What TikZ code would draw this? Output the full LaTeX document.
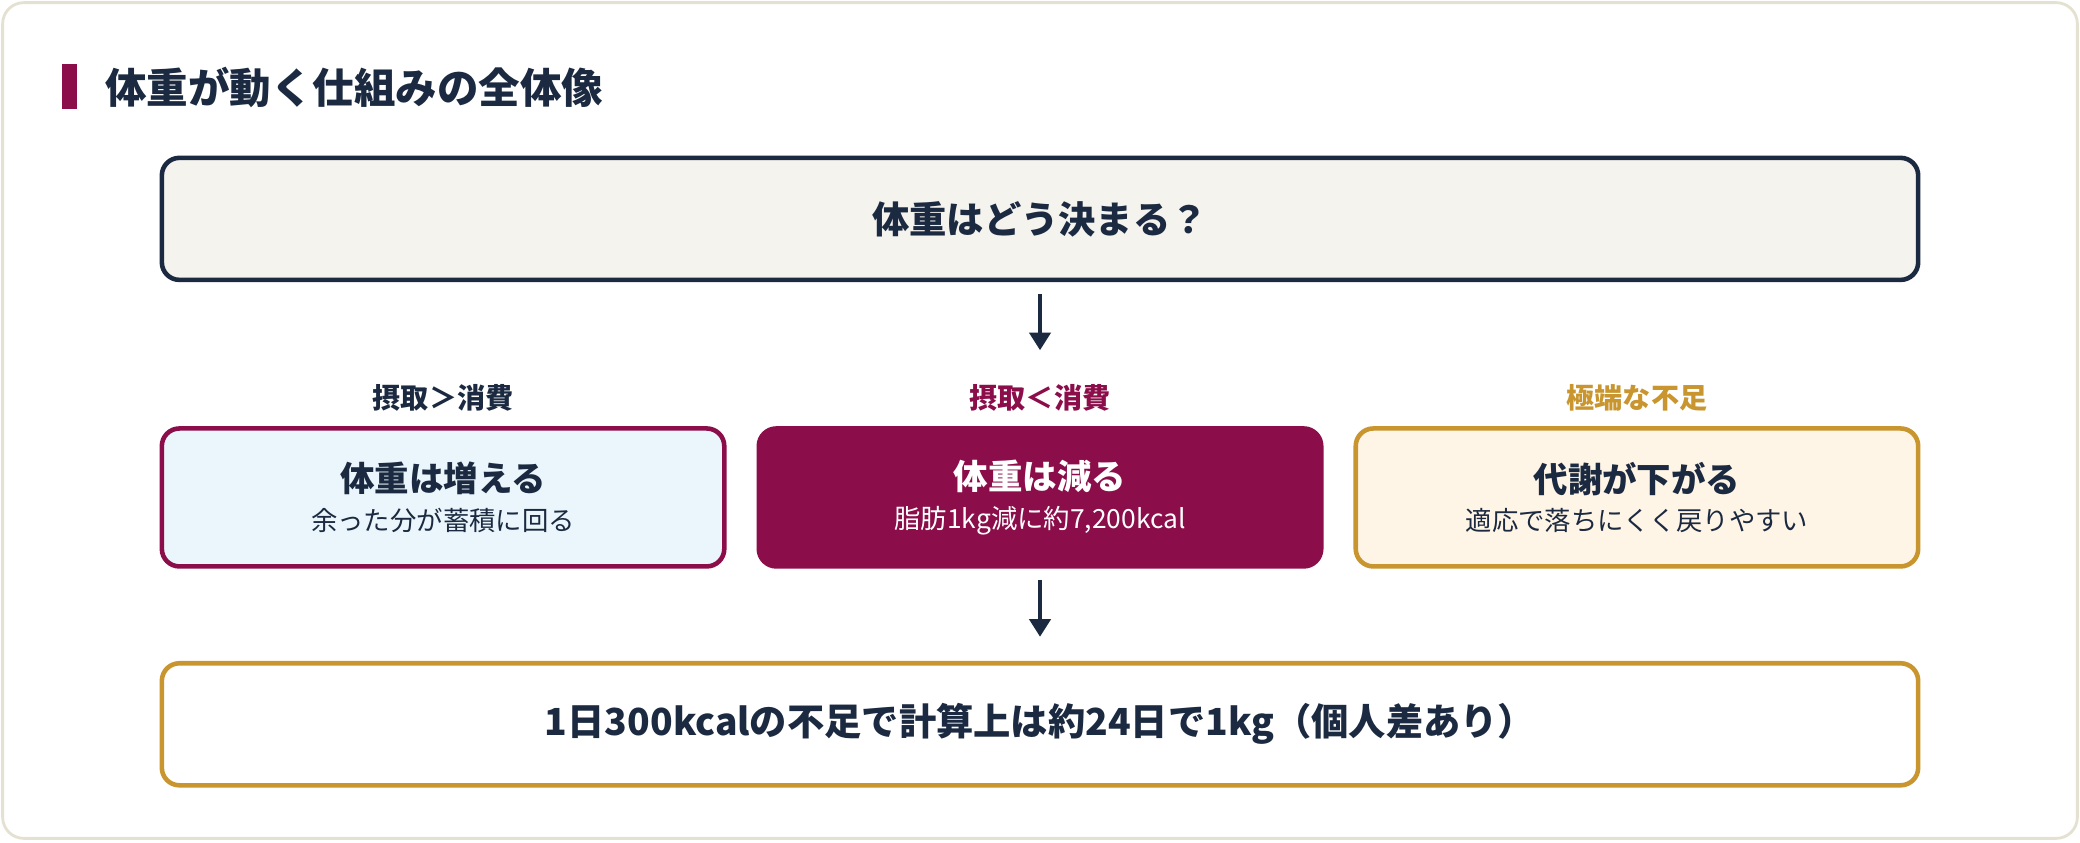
\documentclass[tikz,border=0pt]{standalone}
\usepackage{fontspec}
\setmainfont{Noto Sans CJK JP}
\usetikzlibrary{arrows.meta, positioning}
\definecolor{navy}{HTML}{1B2A41}
\definecolor{maroon}{HTML}{8B0E4A}
\definecolor{gold}{HTML}{C8952F}
\definecolor{paper}{HTML}{F5F3EE}
\definecolor{skyfill}{HTML}{EAF6FB}
\definecolor{creamfill}{HTML}{FFF5E6}
\definecolor{frame}{HTML}{E4E1D2}
\begin{document}
\begin{tikzpicture}[
    x=0.013265cm, y=-0.013265cm,
    box/.style={draw, line width=1.3pt, rounded corners=5pt, minimum width=1324*0.013265cm,
        minimum height=92*0.013265cm, text=navy, font=\fontsize{10.6}{12}\selectfont\bfseries},
    card/.style={draw, line width=1.3pt, rounded corners=5pt, minimum width=424*0.013265cm,
        minimum height=104*0.013265cm, align=center},
    tag/.style={font=\fontsize{8}{9}\selectfont\bfseries},
    flow/.style={-{Triangle[length=5pt,width=6pt]}, line width=1.1pt, draw=navy}
]
\fill[white, draw=frame, line width=0.8pt, rounded corners=6pt] (2,2) rectangle (1566,632);
\useasboundingbox (0,0) rectangle (1568,635);
\fill[maroon] (47,48) rectangle (58,82);
\node[anchor=west, text=navy, font=\fontsize{11.8}{13}\selectfont\bfseries] (title) at (70,66) {体重が動く仕組みの全体像};

\node[box, fill=paper, draw=navy] (q) at (784,165) {体重はどう決まる？};

\node[tag, text=navy] (t1) at (334,300) {摂取＞消費};
\node[tag, text=maroon] (t2) at (784,300) {摂取＜消費};
\node[tag, text=gold] (t3) at (1234,300) {極端な不足};

\node[card, fill=skyfill, draw=maroon, text=navy] (gain) at (334,375)
    {{\fontsize{9.8}{11}\selectfont\bfseries 体重は増える}\\[-1pt]{\fontsize{7.5}{9}\selectfont 余った分が蓄積に回る}};
\node[card, fill=maroon, draw=maroon, text=white] (loss) at (784,375)
    {{\fontsize{9.8}{11}\selectfont\bfseries 体重は減る}\\[-1pt]{\fontsize{7.5}{9}\selectfont 脂肪1kg減に約7,200kcal}};
\node[card, fill=creamfill, draw=gold, text=navy] (adapt) at (1234,375)
    {{\fontsize{9.8}{11}\selectfont\bfseries 代謝が下がる}\\[-1pt]{\fontsize{7.5}{9}\selectfont 適応で落ちにくく戻りやすい}};

\node[box, fill=white, draw=gold] (calc) at (784,546) {1日300kcalの不足で計算上は約24日で1kg（個人差あり）};

\coordinate (a1) at (784,222);
\coordinate (a2) at (784,264);
\coordinate (b1) at (784,437);
\coordinate (b2) at (784,480);
\draw[flow] (a1) -- (a2);
\draw[flow] (b1) -- (b2);
\end{tikzpicture}
\end{document}
